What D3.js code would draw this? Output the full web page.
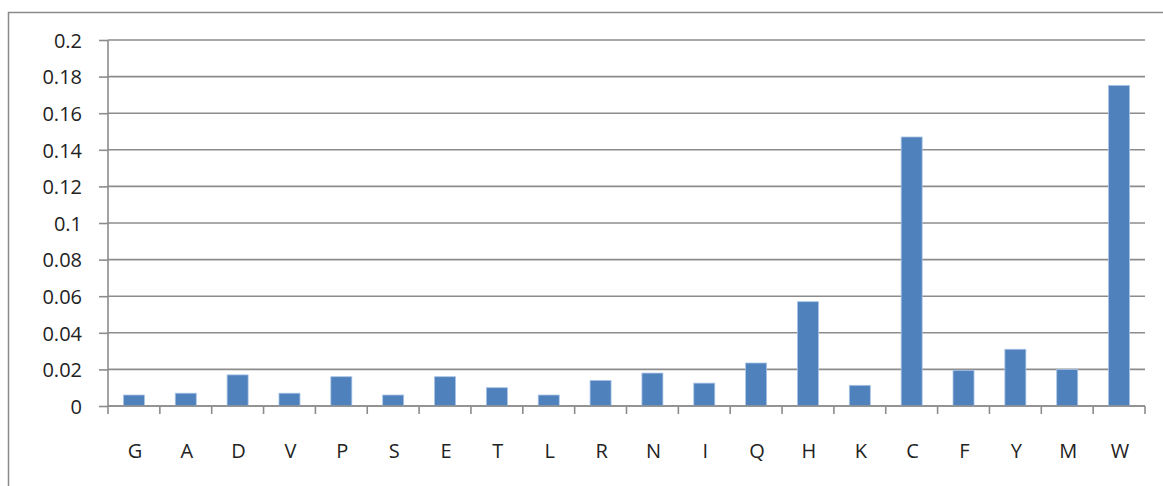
<!DOCTYPE html>
<html>
<head>
<meta charset="utf-8">
<script src="https://cdn.jsdelivr.net/npm/d3@7"></script>
<style>
  html, body { margin: 0; padding: 0; background: #fff; }
  svg { display: block; }
  text { font-family: "Open Sans", "Liberation Sans", sans-serif; font-size: 20px; fill: #222; }
</style>
</head>
<body>
<svg id="chart" width="1163" height="486"></svg>
<script>
// Amino acid frequencies
const categories = ["G","A","D","V","P","S","E","T","L","R","N","I","Q","H","K","C","F","Y","M","W"];
const values = [0.006,0.007,0.017,0.007,0.016,0.006,0.016,0.010,0.006,0.014,0.018,0.0125,0.0235,0.057,0.0113,0.147,0.0195,0.031,0.020,0.1752];
const yTicks = [0,0.02,0.04,0.06,0.08,0.1,0.12,0.14,0.16,0.18,0.2];

const svg = d3.select("#chart");
const plotLeft = 108, plotRight = 1145, plotTop = 40, plotBottom = 406;
const fontSize = 20;

// outer frame
svg.append("rect")
  .attr("x", 8.5).attr("y", 12.5)
  .attr("width", 1170).attr("height", 500)
  .attr("fill", "none").attr("stroke", "#8a8a8a").attr("stroke-width", 1.5);

const xb = d3.scaleBand().domain(categories).range([plotLeft, plotRight]);
const y = d3.scaleLinear().domain([0, 0.2]).range([plotBottom, plotTop]);

// horizontal gridlines
svg.append("g").selectAll("line").data(yTicks).join("line")
  .attr("x1", plotLeft).attr("x2", plotRight)
  .attr("y1", d => y(d)).attr("y2", d => y(d))
  .attr("stroke", "#8c8c8c").attr("stroke-width", 1.6);

// y axis
const yAxis = d3.axisLeft(y).tickValues(yTicks).tickSize(9).tickPadding(17)
  .tickFormat(d => String(+d.toFixed(2)));
const gy = svg.append("g").attr("transform", `translate(${plotLeft},0)`).call(yAxis);
gy.select(".domain").attr("stroke", "#8c8c8c").attr("stroke-width", 1.6).attr("d", `M0,${plotTop}V${plotBottom}`);
gy.selectAll(".tick line").attr("stroke", "#8c8c8c").attr("stroke-width", 1.6);
gy.selectAll(".tick text").attr("font-size", fontSize).attr("fill", "#222")
  .attr("font-family", "'Open Sans', sans-serif").attr("dy", "0.36em");

// bars
svg.append("g").selectAll("rect").data(values).join("rect")
  .attr("x", (d, i) => xb(categories[i]) + xb.bandwidth() / 2 - 10.5)
  .attr("width", 21)
  .attr("y", d => y(d))
  .attr("height", d => y(0) - y(d))
  .attr("fill", "#4f81bd")
  .attr("stroke", "#a9c4e6").attr("stroke-width", 0.8);

// x axis baseline and category ticks
const gx = svg.append("g").attr("transform", `translate(0,${plotBottom})`);
gx.append("line").attr("x1", plotLeft).attr("x2", plotRight).attr("stroke", "#8c8c8c").attr("stroke-width", 1.6);
const bounds = categories.map(c => xb(c)).concat([plotRight]);
gx.selectAll("line.tk").data(bounds).join("line").attr("class", "tk")
  .attr("x1", d => d).attr("x2", d => d).attr("y1", 0).attr("y2", 8)
  .attr("stroke", "#8c8c8c").attr("stroke-width", 1.6);
gx.selectAll("text").data(categories).join("text")
  .attr("x", d => xb(d) + xb.bandwidth() / 2 + 1)
  .attr("y", 52)
  .attr("text-anchor", "middle")
  .text(d => d);
</script>
</body>
</html>
